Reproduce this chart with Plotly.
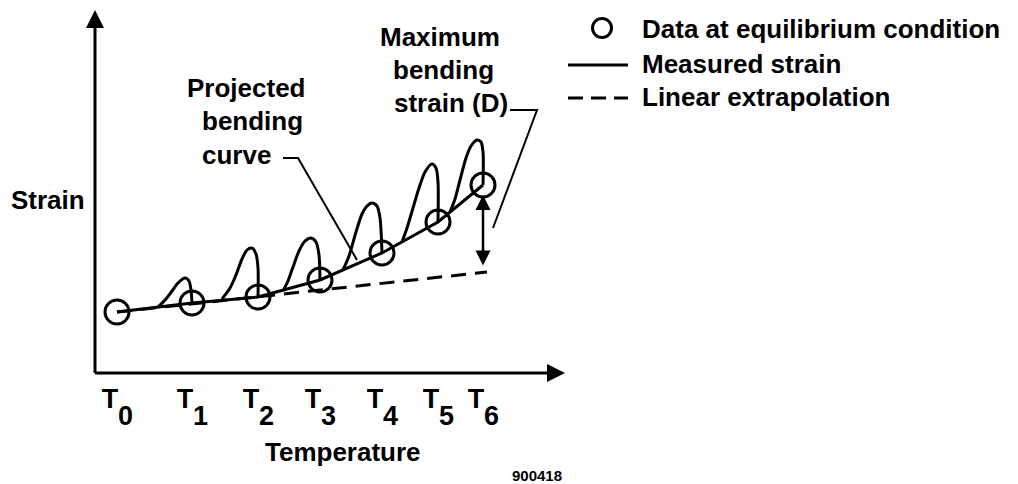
import plotly.graph_objects as go

# ---------------- data (schematic units) ----------------
temp_names = ["T", "T", "T", "T", "T", "T", "T"]
temp_subs = ["0", "1", "2", "3", "4", "5", "6"]
temp_pos = [22, 97, 163, 225, 287, 343, 388]          # T0 .. T6
equil_strain = [61, 70, 76, 93, 120, 151, 188]         # equilibrium strain at each Ti

# measured strain transients (rise, overshoot peak, settle onto equilibrium point)
meas_x = [63, 71, 77, 83, 90, 94, 96, 97, None,
          127, 135, 141, 147, 152, 157, 161, 163, 163, None,
          188, 193, 198, 204, 210, 216, 221, 224, 225, None,
          248, 254, 261, 267, 272, 277, 282, 285, 287, None,
          307, 312, 318, 324, 330, 337, 341, 343, 343, None,
          355, 360, 365, 371, 376, 382, 386, 388, 388]
meas_y = [66, 74, 82, 90, 95, 92, 83, 70, None,
          74, 85, 98, 114, 123, 125, 119, 105, 76, None,
          82, 92, 106, 122, 132, 135, 131, 118, 93, None,
          103, 117, 141, 159, 167, 170, 167, 155, 120, None,
          131, 145, 165, 185, 201, 209, 205, 191, 151, None,
          161, 174, 193, 215, 227, 233, 231, 221, 188]

extrap_x = [22, 392]
extrap_y = [61, 101]

d_arrow_x = 388
d_arrow_low, d_arrow_high = 106, 178

X_RANGE = [-95, 923]
Y_RANGE = [-111, 373]
X_AXIS_END = 470
Y_AXIS_END = 363

FONT = dict(family="Liberation Sans, Arial, Helvetica, sans-serif", size=26, color="black", weight="bold")
LW = 3

fig = go.Figure()

# projected bending curve through equilibrium points
fig.add_trace(go.Scatter(x=temp_pos, y=equil_strain, mode="lines",
                         line=dict(color="black", width=LW), hoverinfo="skip"))
# measured strain transients
fig.add_trace(go.Scatter(x=meas_x, y=meas_y, mode="lines", connectgaps=False,
                         line=dict(color="black", width=LW, shape="spline", smoothing=0.8),
                         hoverinfo="skip"))
# linear extrapolation
fig.add_trace(go.Scatter(x=extrap_x, y=extrap_y, mode="lines",
                         line=dict(color="black", width=LW, dash="15px,9px"), hoverinfo="skip"))
# equilibrium data circles
fig.add_trace(go.Scatter(x=temp_pos, y=equil_strain, mode="markers",
                         marker=dict(symbol="circle-open", size=24, color="black",
                                     line=dict(width=3, color="black")),
                         hoverinfo="skip", cliponaxis=False))

# leader lines for labels
fig.add_trace(go.Scatter(x=[188, 203, 262], y=[215, 215, 113], mode="lines",
                         line=dict(color="black", width=2), hoverinfo="skip"))
fig.add_trace(go.Scatter(x=[415, 442, 398], y=[263, 263, 145], mode="lines",
                         line=dict(color="black", width=2), hoverinfo="skip"))

# legend samples
fig.add_trace(go.Scatter(x=[507], y=[345], mode="markers",
                         marker=dict(symbol="circle-open", size=19, color="black",
                                     line=dict(width=3, color="black")),
                         hoverinfo="skip", cliponaxis=False))
fig.add_trace(go.Scatter(x=[473, 533], y=[308, 308], mode="lines",
                         line=dict(color="black", width=LW), hoverinfo="skip"))
fig.add_trace(go.Scatter(x=[473, 533], y=[275, 275], mode="lines",
                         line=dict(color="black", width=LW, dash="15px,8px"), hoverinfo="skip"))

ann = []
# axes with arrowheads
ann.append(dict(x=X_AXIS_END, y=0, ax=-1.5, ay=0, xref="x", yref="y", axref="x", ayref="y",
                text="", showarrow=True, arrowhead=2, arrowsize=1.2, arrowwidth=3, arrowcolor="black"))
ann.append(dict(x=0, y=Y_AXIS_END, ax=0, ay=-1.5, xref="x", yref="y", axref="x", ayref="y",
                text="", showarrow=True, arrowhead=2, arrowsize=1.2, arrowwidth=3, arrowcolor="black"))
# maximum bending strain double arrow
ann.append(dict(x=d_arrow_x, y=d_arrow_high, ax=d_arrow_x, ay=d_arrow_low, xref="x", yref="y",
                axref="x", ayref="y", text="", showarrow=True, arrowside="end+start",
                arrowhead=2, startarrowhead=2, arrowsize=1.2, startarrowsize=1.2,
                arrowwidth=2.5, arrowcolor="black"))

def label(txt, x, y, anchor="center", size=26, xshift=0):
    f = dict(FONT)
    f["size"] = size
    ann.append(dict(x=x, y=y, xref="x", yref="y", text=txt, showarrow=False,
                    xanchor=anchor, yanchor="middle", font=f, xshift=xshift))

# subscripts of the temperature tick labels
for xp, s in zip(temp_pos, temp_subs):
    label(s, xp, -43, size=27, xshift=8)

label("Strain", -47, 173)
label("Temperature", 248, -79)
label("900418", 442, -102, size=15)

label("Projected", 151, 285)
label("bending", 157, 252)
label("curve", 141, 218)

label("Maximum", 345, 336)
label("bending", 348, 303)
label("strain (D)", 356, 270)

label("Data at equilibrium condition", 545, 344, anchor="left")
label("Measured strain", 545, 309, anchor="left")
label("Linear extrapolation", 545, 276, anchor="left")

tick_font = dict(FONT)
tick_font["size"] = 27

fig.update_layout(
    width=1018, height=484, autosize=False,
    margin=dict(l=0, r=0, t=0, b=0, pad=0),
    paper_bgcolor="white", plot_bgcolor="white",
    showlegend=False,
    annotations=ann,
    xaxis=dict(range=X_RANGE, domain=[0, 1], anchor="free", position=111 / 484,
               showline=False, showgrid=False, zeroline=False, ticks="",
               tickvals=temp_pos, ticktext=temp_names, tickfont=tick_font,
               ticklabelstandoff=7, ticklabelshift=-7, automargin=False, fixedrange=True),
    yaxis=dict(range=Y_RANGE, domain=[0, 1], visible=False, showgrid=False, zeroline=False,
               automargin=False, fixedrange=True),
)

fig.write_html("out.html", config={"displayModeBar": False},
               post_script="document.body.style.margin='0px';document.body.style.padding='0px';")
